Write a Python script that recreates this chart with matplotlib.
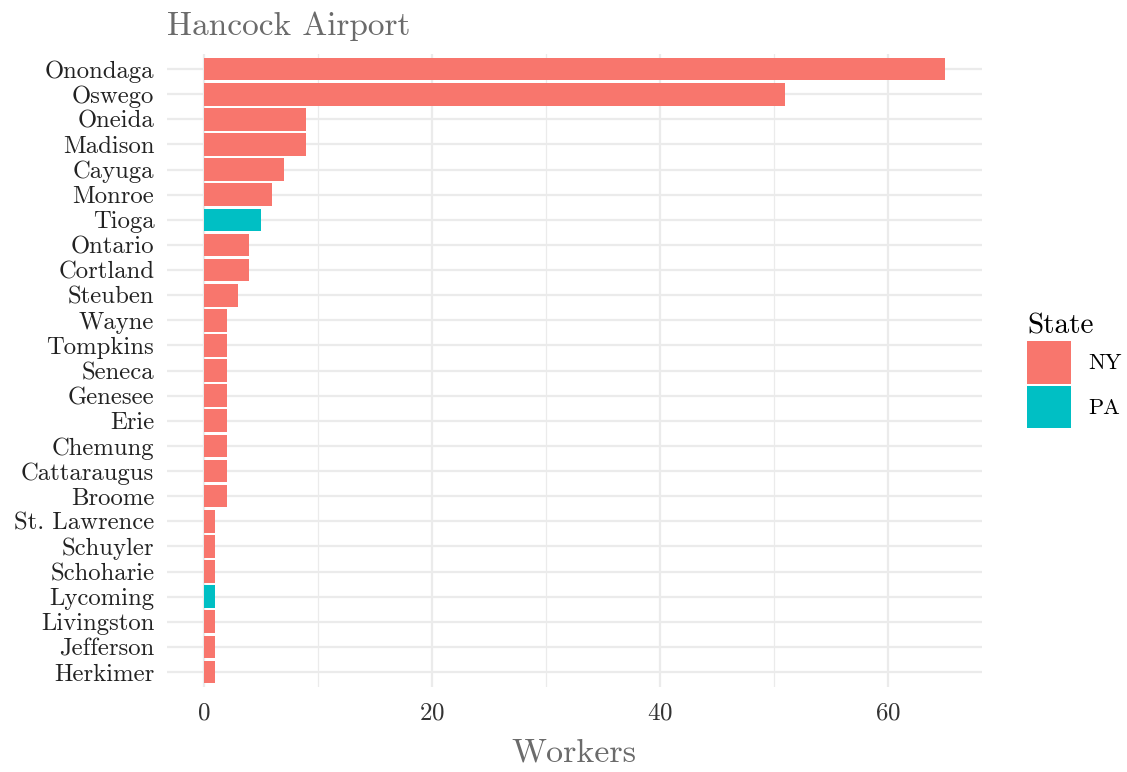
import matplotlib

matplotlib.use('Agg')
import matplotlib.pyplot as plt
from matplotlib.patches import Patch
import numpy as np

counties = ["Onondaga", "Oswego", "Oneida", "Madison", "Cayuga", "Monroe", "Tioga",
            "Ontario", "Cortland", "Steuben", "Wayne", "Tompkins", "Seneca", "Genesee",
            "Erie", "Chemung", "Cattaraugus", "Broome", "St. Lawrence", "Schuyler",
            "Schoharie", "Lycoming", "Livingston", "Jefferson", "Herkimer"]
workers = [65, 51, 9, 9, 7, 6, 5, 4, 4, 3, 2, 2, 2, 2, 2, 2, 2, 2, 1, 1, 1, 1, 1, 1, 1]
states = ["NY", "NY", "NY", "NY", "NY", "NY", "PA", "NY", "NY", "NY", "NY", "NY", "NY",
          "NY", "NY", "NY", "NY", "NY", "NY", "NY", "NY", "PA", "NY", "NY", "NY"]
state_colors = {"NY": "#F8766D", "PA": "#00BFC4"}

plt.rcParams['font.family'] = ['cmr10', 'DejaVu Serif']
plt.rcParams['axes.formatter.use_mathtext'] = True

fig = plt.figure(figsize=(11.27, 7.72), dpi=100)
ax = fig.add_axes([0.148, 0.110, 0.723, 0.820])

n = len(counties)
ypos = np.arange(n)[::-1]
ax.barh(ypos, workers, height=0.9, color=[state_colors[s] for s in states], zorder=2)

ax.set_xlim(-3.25, 68.25)
ax.set_ylim(-0.6, n - 1 + 0.6)
ax.set_yticks(ypos)
ax.set_yticklabels(counties)
ax.set_xticks([0, 20, 40, 60])
ax.set_xticks([10, 30, 50], minor=True)

ax.grid(True, which='major', color='#EBEBEB', linewidth=1.6, zorder=0)
ax.grid(True, which='minor', axis='x', color='#EBEBEB', linewidth=0.9, zorder=0)
for s in ax.spines.values():
    s.set_visible(False)
ax.tick_params(which='both', length=0)
ax.tick_params(axis='y', labelsize=17.8, labelcolor='#222222', pad=9)
ax.tick_params(axis='x', labelsize=18, labelcolor='#333333', pad=11)

ax.set_title("Hancock Airport", loc='left', fontsize=24, color='#6b6b6b', pad=14)
ax.set_xlabel("Workers", fontsize=24.5, color='#6b6b6b', labelpad=10)

handles = [Patch(facecolor=state_colors[k], edgecolor='none', label=k) for k in ["NY", "PA"]]
leg = ax.legend(handles=handles, title="State", loc='center left',
                bbox_to_anchor=(1.045, 0.5), frameon=False, fontsize=16,
                title_fontsize=21, handlelength=1.95, handleheight=2.55,
                handletextpad=0.8, labelspacing=0.1, borderaxespad=0)
leg._legend_box.align = 'left'

fig.savefig('out.png', dpi=100, facecolor='white')
